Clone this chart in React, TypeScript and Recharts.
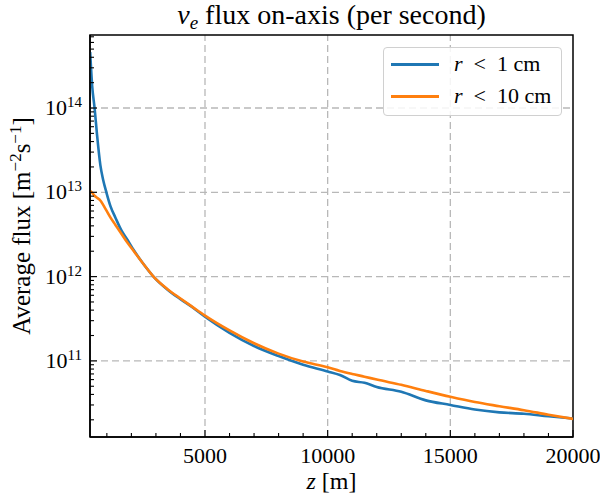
import { LineChart, Line, XAxis, YAxis, ReferenceLine, ReferenceArea, Legend } from 'recharts'

// distance along the axis [m]
const zValues = [
  320, 400, 500, 600, 735, 850, 980, 1150, 1350, 1600, 1850, 2100, 2500, 2900, 3500, 4000,
  4500, 5000, 6000, 7000, 8000, 9000, 10000, 10500, 11000, 11500, 12000, 13000, 14000, 15000,
  16000, 17000, 18000, 19000, 20000,
]

// r < 1 cm
const fluxR1 = [
  4.6e14, 1.85e14, 1.0e14, 4.8e13, 2.1e13, 1.4e13, 1.0e13, 6.8e12, 5.0e12, 3.5e12, 2.7e12,
  2.05e12, 1.4e12, 1.0e12, 6.9e11, 5.4e11, 4.3e11, 3.35e11, 2.15e11, 1.5e11, 1.14e11, 9.0e10,
  7.5e10, 6.8e10, 5.8e10, 5.5e10, 4.9e10, 4.3e10, 3.4e10, 3.0e10, 2.65e10, 2.45e10, 2.36e10,
  2.2e10, 2.07e10,
]

// r < 10 cm
const fluxR10 = [
  1.04e13, 9.9e12, 9.1e12, 8.6e12, 8.0e12, 7.1e12, 6.1e12, 5.0e12, 4.1e12, 3.2e12, 2.5e12,
  2.0e12, 1.4e12, 1.0e12, 7.0e11, 5.5e11, 4.35e11, 3.45e11, 2.3e11, 1.62e11, 1.22e11, 9.8e10,
  8.4e10, 7.6e10, 7.0e10, 6.5e10, 6.0e10, 5.2e10, 4.4e10, 3.75e10, 3.25e10, 2.9e10, 2.6e10,
  2.3e10, 2.05e10,
]

const xMajorTicks = [5000, 10000, 15000, 20000]
const yMajorTicks = [1e11, 1e12, 1e13, 1e14]

const X_DOMAIN: [number, number] = [313, 20000]
const Y_DOMAIN: [number, number] = [1.25e10, 7.35e14]

const FONT = "'Liberation Serif', serif"
const FS = 22
const SUP = 15
const BLUE = '#1f77b4'
const ORANGE = '#ff7f0e'
const GRID = '#b8b8b8'

const data = zValues.map((z, i) => ({ z, r1: fluxR1[i], r10: fluxR10[i] }))

const xTicks: number[] = []
for (let v = 1000; v <= 20000; v += 1000) xTicks.push(v)

const yTicks: number[] = []
for (let e = 10; e <= 14; e++) {
  for (let m = 1; m <= 9; m++) {
    const v = m * Math.pow(10, e)
    if (v >= Y_DOMAIN[0] && v <= Y_DOMAIN[1]) yTicks.push(v)
  }
}

const XTick = ({ x, y, payload }: any) => {
  const major = xMajorTicks.includes(payload.value)
  return (
    <g>
      <line x1={x} x2={x} y1={y} y2={y - (major ? 7 : 4)} stroke="#000" strokeWidth={1.1} />
      {major && (
        <text x={x} y={y + 26} textAnchor="middle" fontFamily={FONT} fontSize={FS} fill="#000">
          {payload.value}
        </text>
      )}
    </g>
  )
}

const YTick = ({ x, y, payload }: any) => {
  const v = payload.value
  const exp = Math.round(Math.log10(v))
  const major = yMajorTicks.some((t) => Math.abs(t - v) < t * 1e-6)
  return (
    <g>
      <line x1={x} x2={x + (major ? 7 : 4)} y1={y} y2={y} stroke="#000" strokeWidth={1.1} />
      {major && (
        <text x={x - 8} y={y + 7} textAnchor="end" fontFamily={FONT} fontSize={FS} fill="#000">
          10
          <tspan dy={-8} fontSize={SUP}>
            {exp}
          </tspan>
        </text>
      )}
    </g>
  )
}

const series = [
  { key: 'r1', label: '1', color: BLUE },
  { key: 'r10', label: '10', color: ORANGE },
]

const LegendBox = () => (
  <div
    style={{
      border: '1px solid #d0d0d0',
      borderRadius: 4,
      background: 'rgba(255,255,255,0.85)',
      padding: '0 0 3px 7px',
      fontFamily: FONT,
      fontSize: FS,
      boxSizing: 'border-box',
    }}
  >
    {series.map((s) => (
      <div key={s.key} style={{ display: 'flex', alignItems: 'center', height: 32 }}>
        <span style={{ width: 48, height: 3, background: s.color, marginRight: 15 }} />
        <span style={{ whiteSpace: 'pre' }}>
          <i>r</i>
          {'  <  ' + s.label + ' cm'}
        </span>
      </div>
    ))}
  </div>
)

const Title = ({ viewBox }: any) => (
  <text
    x={viewBox.x + viewBox.width / 2}
    y={viewBox.y - 11}
    textAnchor="middle"
    fontFamily={FONT}
    fontSize={28}
    fill="#000"
  >
    <tspan fontStyle="italic">ν</tspan>
    <tspan fontStyle="italic" fontSize={19} dy={5}>
      e
    </tspan>
    <tspan dy={-5}> flux on-axis (per second)</tspan>
  </text>
)

export default function App() {
  return (
    <div style={{ position: 'absolute', left: 0, top: 0, background: '#fff' }}>
      <LineChart width={600} height={502} data={data} margin={{ top: 35, right: 27, bottom: 0, left: 0 }}>
        {xMajorTicks.slice(0, 3).map((v) => (
          <ReferenceLine
            key={'x' + v}
            x={v}
            stroke={GRID}
            strokeWidth={1.3}
            strokeDasharray="7 4"
            zIndex={-100}
          />
        ))}
        {yMajorTicks.map((v) => (
          <ReferenceLine
            key={'y' + v}
            y={v}
            stroke={GRID}
            strokeWidth={1.3}
            strokeDasharray="7 4"
            zIndex={-100}
          />
        ))}
        <XAxis
          dataKey="z"
          type="number"
          domain={X_DOMAIN}
          allowDataOverflow
          ticks={xTicks}
          interval={0}
          tick={<XTick />}
          tickLine={false}
          tickSize={0}
          tickMargin={0}
          height={65}
          axisLine={{ stroke: '#000', strokeWidth: 1.5 }}
          label={{
            content: ({ viewBox }: any) => (
              <text
                x={viewBox.x + viewBox.width / 2}
                y={viewBox.y + 52}
                textAnchor="middle"
                fontFamily={FONT}
                fontSize={24}
                fill="#000"
              >
                <tspan fontStyle="italic">z</tspan> [m]
              </text>
            ),
          }}
        />
        <YAxis
          type="number"
          scale="log"
          domain={Y_DOMAIN}
          allowDataOverflow
          ticks={yTicks}
          interval={0}
          tick={<YTick />}
          tickLine={false}
          tickSize={0}
          tickMargin={0}
          width={90}
          axisLine={{ stroke: '#000', strokeWidth: 1.5 }}
          label={{
            content: ({ viewBox }: any) => {
              const cx = 30
              const cy = viewBox.y + viewBox.height / 2 - 10
              return (
                <text
                  x={cx}
                  y={cy}
                  transform={`rotate(-90, ${cx}, ${cy})`}
                  textAnchor="middle"
                  fontFamily={FONT}
                  fontSize={25}
                  fill="#000"
                >
                  Average flux [m
                  <tspan dy={-9} fontSize={17}>
                    −2
                  </tspan>
                  <tspan dy={9}>s</tspan>
                  <tspan dy={-9} fontSize={17}>
                    −1
                  </tspan>
                  <tspan dy={9}>]</tspan>
                </text>
              )
            },
          }}
        />
        {series.map((s) => (
          <Line
            key={s.key}
            dataKey={s.key}
            type="monotone"
            stroke={s.color}
            strokeWidth={2.6}
            dot={false}
            isAnimationActive={false}
          />
        ))}
        <ReferenceArea
          x1={X_DOMAIN[0]}
          x2={X_DOMAIN[1]}
          y1={Y_DOMAIN[0]}
          y2={Y_DOMAIN[1]}
          fill="none"
          stroke="#000"
          strokeWidth={1.5}
          ifOverflow="visible"
          label={{ content: <Title /> }}
        />
        <Legend
          layout="horizontal"
          verticalAlign="middle"
          align="center"
          wrapperStyle={{ top: 47, left: 383, width: 179, height: 69 }}
          content={<LegendBox />}
        />
      </LineChart>
    </div>
  )
}
